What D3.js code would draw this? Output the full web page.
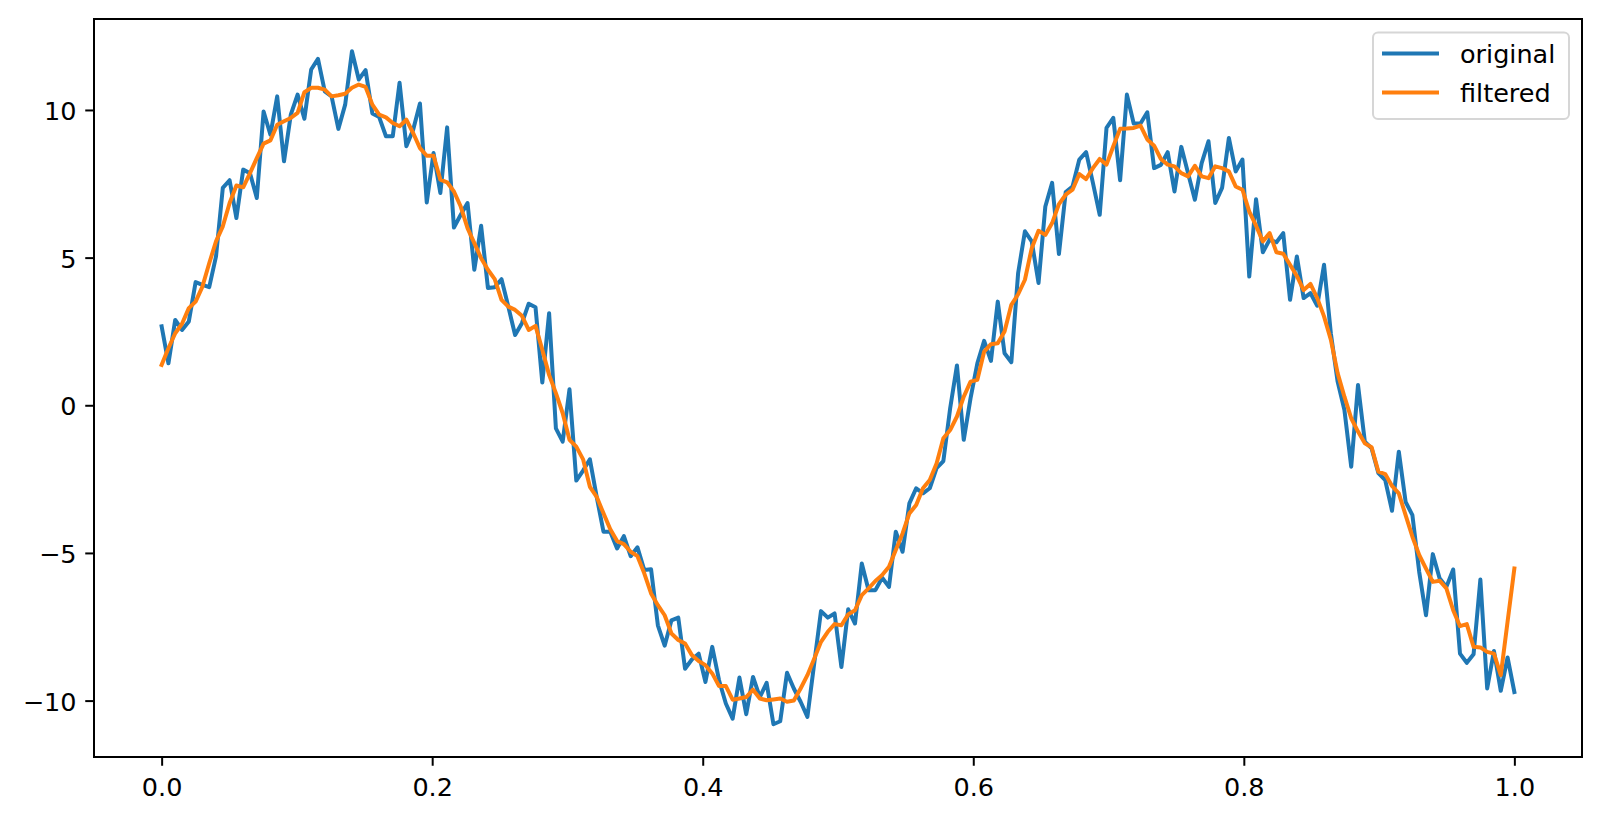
<!DOCTYPE html>
<html>
<head>
<meta charset="utf-8">
<script src="https://cdn.jsdelivr.net/npm/d3@7"></script>
<style>
  html, body { margin: 0; padding: 0; background: #ffffff; }
  svg { display: block; font-family: "DejaVu Sans", sans-serif; }
</style>
</head>
<body>
<svg id="chart" width="1601" height="822"></svg>
<script>
// ---- data ----
const sampleCount = 200;           // samples on t in [0, 1]
const original = [
  2.67, 1.42, 2.89, 2.55, 2.84, 4.17, 4.08, 4.00, 5.04, 7.36,
  7.62, 6.34, 7.98, 7.86, 7.02, 9.95, 9.16, 10.46, 8.26, 9.84,
  10.52, 9.70, 11.37, 11.73, 10.63, 10.46, 9.36, 10.18, 11.99, 11.03,
  11.35, 9.88, 9.76, 9.11, 9.11, 10.92, 8.77, 9.33, 10.22, 6.87,
  8.54, 7.19, 9.41, 6.02, 6.45, 6.85, 4.59, 6.08, 3.97, 4.00,
  4.27, 3.34, 2.38, 2.78, 3.44, 3.32, 0.77, 3.12, -0.78, -1.23,
  0.54, -2.55, -2.21, -1.83, -3.10, -4.28, -4.28, -4.85, -4.43, -5.11,
  -4.81, -5.58, -5.55, -7.45, -8.14, -7.28, -7.19, -8.92, -8.61, -8.41,
  -9.37, -8.18, -9.31, -10.10, -10.61, -9.22, -10.46, -9.20, -9.88, -9.40,
  -10.80, -10.70, -9.06, -9.59, -10.04, -10.55, -8.74, -6.97, -7.19, -7.05,
  -8.86, -6.91, -7.39, -5.36, -6.26, -6.26, -5.84, -6.15, -4.28, -4.96,
  -3.32, -2.81, -2.98, -2.81, -2.13, -1.89, -0.10, 1.35, -1.17, 0.24,
  1.42, 2.18, 1.50, 3.51, 1.76, 1.46, 4.48, 5.89, 5.55, 4.14,
  6.73, 7.53, 5.12, 7.22, 7.41, 8.32, 8.57, 7.53, 6.45, 9.39,
  9.73, 7.62, 10.52, 9.54, 9.54, 9.92, 8.03, 8.14, 8.57, 7.24,
  8.75, 7.86, 6.96, 8.20, 8.94, 6.85, 7.36, 9.05, 7.92, 8.32,
  4.36, 6.98, 5.18, 5.61, 5.52, 5.83, 3.57, 5.04, 3.63, 3.80,
  3.37, 4.76, 2.44, 0.80, -0.16, -2.08, 0.69, -1.23, -1.46, -2.30,
  -2.53, -3.57, -1.57, -3.27, -3.72, -5.64, -7.11, -5.04, -5.86, -6.15,
  -5.56, -8.41, -8.72, -8.43, -5.90, -9.59, -8.32, -9.67, -8.54, -9.71
];
const filtered = [
  1.37, 1.93, 2.44, 2.76, 3.29, 3.51, 4.02, 4.81, 5.55, 6.06,
  6.85, 7.44, 7.38, 7.86, 8.37, 8.86, 8.97, 9.50, 9.62, 9.73,
  9.90, 10.60, 10.75, 10.75, 10.69, 10.46, 10.50, 10.55, 10.75, 10.86,
  10.78, 10.18, 9.84, 9.75, 9.56, 9.45, 9.67, 9.22, 8.71, 8.45,
  8.45, 7.64, 7.55, 7.24, 6.73, 6.00, 5.49, 4.98, 4.59, 4.27,
  3.57, 3.34, 3.23, 3.03, 2.55, 2.69, 1.88, 1.03, 0.41, -0.27,
  -1.17, -1.40, -1.83, -2.76, -3.10, -3.66, -4.20, -4.60, -4.70, -4.96,
  -5.11, -5.69, -6.37, -6.77, -7.11, -7.73, -7.95, -8.07, -8.46, -8.66,
  -8.80, -9.08, -9.51, -9.51, -9.97, -9.93, -9.88, -9.63, -9.93, -9.99,
  -9.96, -9.93, -10.04, -10.00, -9.59, -9.14, -8.58, -8.01, -7.67, -7.41,
  -7.45, -7.08, -6.94, -6.43, -6.20, -5.95, -5.75, -5.47, -4.90, -4.34,
  -3.66, -3.38, -2.81, -2.53, -1.97, -1.12, -0.84, -0.38, 0.29, 0.80,
  0.86, 1.82, 2.07, 2.10, 2.50, 3.40, 3.76, 4.25, 5.32, 5.91,
  5.77, 6.17, 6.81, 7.13, 7.30, 7.83, 7.66, 8.03, 8.34, 8.15,
  8.77, 9.36, 9.37, 9.39, 9.47, 9.00, 8.79, 8.34, 8.15, 8.09,
  7.86, 7.75, 8.11, 7.75, 7.69, 8.09, 8.03, 7.92, 7.41, 7.30,
  6.56, 6.08, 5.55, 5.83, 5.18, 5.13, 4.76, 4.38, 3.90, 4.11,
  3.63, 3.01, 2.22, 1.09, 0.29, -0.44, -0.89, -1.29, -1.42, -2.25,
  -2.33, -2.73, -2.98, -3.72, -4.45, -5.07, -5.53, -5.98, -5.94, -6.20,
  -6.94, -7.48, -7.41, -8.18, -8.20, -8.35, -8.41, -9.14, -7.33, -5.53
];
const seriesNames = ["original", "filtered"];
const seriesColors = ["#1f77b4", "#ff7f0e"];
const xTicks = [0.0, 0.2, 0.4, 0.6, 0.8, 1.0];
const xTickLabels = ["0.0", "0.2", "0.4", "0.6", "0.8", "1.0"];
const yTicks = [-10, -5, 0, 5, 10];
const yTickLabels = ["\u221210", "\u22125", "0", "5", "10"];

// sample time grid (linspace 0..1)
const t = d3.range(sampleCount).map(i => i / (sampleCount - 1));

// ---- layout ----
const plot = { left: 94, top: 19, right: 1582, bottom: 757 };
const fontPx = 25.5;
const tickLen = 8.75;
const tickPad = 8.75;
const lineW = 4;

const svg = d3.select("#chart");

const x = d3.scaleLinear().domain([-0.05, 1.05]).range([plot.left, plot.right]);
const y = d3.scaleLinear().domain([-11.91, 13.08]).range([plot.bottom, plot.top]);

// clip
svg.append("defs").append("clipPath").attr("id", "clip")
  .append("rect")
  .attr("x", plot.left).attr("y", plot.top)
  .attr("width", plot.right - plot.left).attr("height", plot.bottom - plot.top);

// lines
const line = d3.line().x((d, i) => x(t[i])).y(d => y(d));
const allSeries = [original, filtered];
const gLines = svg.append("g").attr("clip-path", "url(#clip)");
allSeries.forEach((s, k) => {
  gLines.append("path")
    .datum(s)
    .attr("d", line)
    .attr("fill", "none")
    .attr("stroke", seriesColors[k])
    .attr("stroke-width", lineW)
    .attr("stroke-linejoin", "round")
    .attr("stroke-linecap", "square");
});

// axes
const xAxis = d3.axisBottom(x).tickValues(xTicks)
  .tickFormat((d, i) => xTickLabels[i]).tickSize(tickLen).tickPadding(tickPad).tickSizeOuter(0);
const yAxis = d3.axisLeft(y).tickValues(yTicks)
  .tickFormat((d, i) => yTickLabels[i]).tickSize(tickLen).tickPadding(tickPad).tickSizeOuter(0);

const gx = svg.append("g").attr("transform", `translate(0,${plot.bottom})`).call(xAxis);
const gy = svg.append("g").attr("transform", `translate(${plot.left},0)`).call(yAxis);
[gx, gy].forEach(g => {
  g.select(".domain").remove();
  g.selectAll(".tick line").attr("stroke", "#000").attr("stroke-width", 2);
  g.selectAll(".tick text")
    .attr("fill", "#000")
    .style("font-family", "'DejaVu Sans', sans-serif")
    .style("font-size", fontPx + "px");
});
gx.selectAll(".tick text").attr("y", tickLen + tickPad).attr("dy", "0.85em");
gy.selectAll(".tick text").attr("dy", "0.37em");

// spines
svg.append("rect")
  .attr("x", plot.left).attr("y", plot.top)
  .attr("width", plot.right - plot.left).attr("height", plot.bottom - plot.top)
  .attr("fill", "none").attr("stroke", "#000").attr("stroke-width", 2);

// legend
const legend = svg.append("g");
const lg = { x: 1373, y: 32.5, w: 196, h: 86.5 };
legend.append("rect")
  .attr("x", lg.x).attr("y", lg.y).attr("width", lg.w).attr("height", lg.h)
  .attr("rx", 5).attr("ry", 5)
  .attr("fill", "#ffffff").attr("fill-opacity", 0.8)
  .attr("stroke", "#d6d6d6").attr("stroke-width", 2);
const legendRowY = [53.5, 92.5];
seriesNames.forEach((name, k) => {
  legend.append("line")
    .attr("x1", 1382).attr("x2", 1439)
    .attr("y1", legendRowY[k]).attr("y2", legendRowY[k])
    .attr("stroke", seriesColors[k]).attr("stroke-width", lineW);
  legend.append("text")
    .attr("x", 1460).attr("y", legendRowY[k] + 9.5)
    .style("font-size", fontPx + "px")
    .attr("fill", "#000")
    .text(name);
});
</script>
</body>
</html>
